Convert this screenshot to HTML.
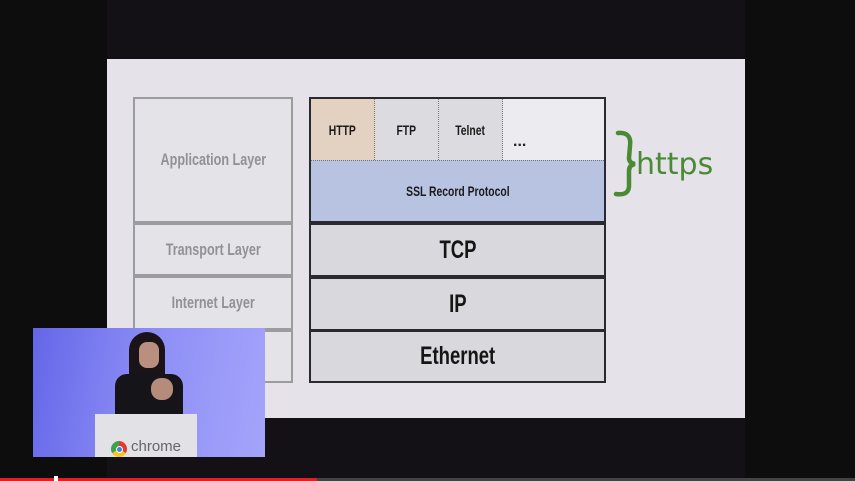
<!DOCTYPE html>
<html><head><meta charset="utf-8"><style>
*{margin:0;padding:0;box-sizing:border-box}
body{width:855px;height:481px;overflow:hidden;background:#0d0d0d;position:relative;font-family:"Liberation Sans",sans-serif}
.a{position:absolute}
.lb{position:absolute;border:2px solid #9c9ba0;background:#e4e3e8;display:flex;align-items:center;justify-content:center;color:#929196;font-size:17px;font-weight:bold}
.rb{position:absolute;border:2px solid #2a2a2e;background:#d9d8dc;display:flex;align-items:center;justify-content:center;color:#151515;font-size:25px;font-weight:bold}
.c{display:inline-block;transform:scaleX(0.74)}
.cell{position:absolute;top:0;height:61px;display:flex;align-items:center;justify-content:center;font-size:14px;font-weight:bold;color:#1a1a1a;border-right:1px dotted #777}
</style></head><body>
<div class="a" style="left:107px;top:0;width:638px;height:478px;background:#131116"></div>
<div class="a" style="left:107px;top:59px;width:638px;height:359px;background:#e5e3e9"></div>

<div class="lb" style="left:133px;top:97px;width:160px;height:126px"><span class="c">Application Layer</span></div>
<div class="lb" style="left:133px;top:223px;width:160px;height:53px"><span class="c">Transport Layer</span></div>
<div class="lb" style="left:133px;top:276px;width:160px;height:54px"><span class="c">Internet Layer</span></div>
<div class="lb" style="left:133px;top:330px;width:160px;height:53px"></div>

<div class="a" style="left:309px;top:97px;width:297px;height:127px;border:2px solid #2a2a2e;border-bottom-width:3px;background:#ecebef">
  <div class="cell" style="left:0;width:64px;background:#e3d1c2"><span class="c">HTTP</span></div>
  <div class="cell" style="left:64px;width:64px;background:#dcdbdf"><span class="c">FTP</span></div>
  <div class="cell" style="left:128px;width:64px;background:#dcdbdf"><span class="c">Telnet</span></div>
  <div class="a" style="left:202px;top:34px;font-size:16px;font-weight:bold;color:#222">...</div>
  <div class="a" style="left:0;top:61px;width:293px;height:61px;background:#b7c3e1;border-top:1px dotted #777;display:flex;align-items:center;justify-content:center;font-size:14px;font-weight:bold;color:#1a1a1a"><span class="c">SSL Record Protocol</span></div>
</div>
<div class="rb" style="left:309px;top:223px;width:297px;height:54px"><span class="c">TCP</span></div>
<div class="rb" style="left:309px;top:277px;width:297px;height:54px"><span class="c">IP</span></div>
<div class="rb" style="left:309px;top:330px;width:297px;height:53px"><span class="c">Ethernet</span></div>

<svg class="a" style="left:608px;top:128px" width="120" height="70">
<path d="M10 5 Q24 4 22 18 L21 30 Q21 35 27 36 Q21 37 21 43 L21 56 Q22 68 8 66" fill="none" stroke="#4a8a34" stroke-width="4.5" stroke-linecap="round"/>
<text x="28" y="46" font-family="DejaVu Sans,sans-serif" font-size="30" fill="#4a8a34">https</text>
</svg>

<div class="a" style="left:33px;top:328px;width:232px;height:129px;background:linear-gradient(100deg,#6466e8 0%,#8e8ff6 50%,#a5a4fb 100%);overflow:hidden">
  <div class="a" style="left:96px;top:4px;width:36px;height:52px;background:#1a1418;border-radius:18px 18px 6px 6px"></div>
  <div class="a" style="left:106px;top:14px;width:20px;height:26px;background:#b98f80;border-radius:8px"></div>
  <div class="a" style="left:82px;top:46px;width:68px;height:44px;background:#151418;border-radius:12px 12px 0 0"></div>
  <div class="a" style="left:118px;top:50px;width:22px;height:22px;background:#b58b7c;border-radius:10px"></div>
  <div class="a" style="left:62px;top:86px;width:102px;height:45px;background:#e2e1e6"></div>
  <div class="a" style="left:78px;top:113px;width:16px;height:16px;border-radius:50%;background:conic-gradient(#e33c2f 0 120deg,#f6c521 120deg 240deg,#3fa14a 240deg 360deg)"></div>
  <div class="a" style="left:83px;top:118px;width:7px;height:7px;border-radius:50%;background:#3b83e0;border:1px solid #fff"></div>
  <div class="a" style="left:98px;top:110px;font-size:15px;color:#666">chrome</div>
</div>

<div class="a" style="left:0;top:478px;width:855px;height:3px;background:#444"></div>
<div class="a" style="left:0;top:478px;width:317px;height:3px;background:#e01e24"></div>
<div class="a" style="left:54px;top:476px;width:4px;height:5px;background:#fff"></div>
</body></html>
